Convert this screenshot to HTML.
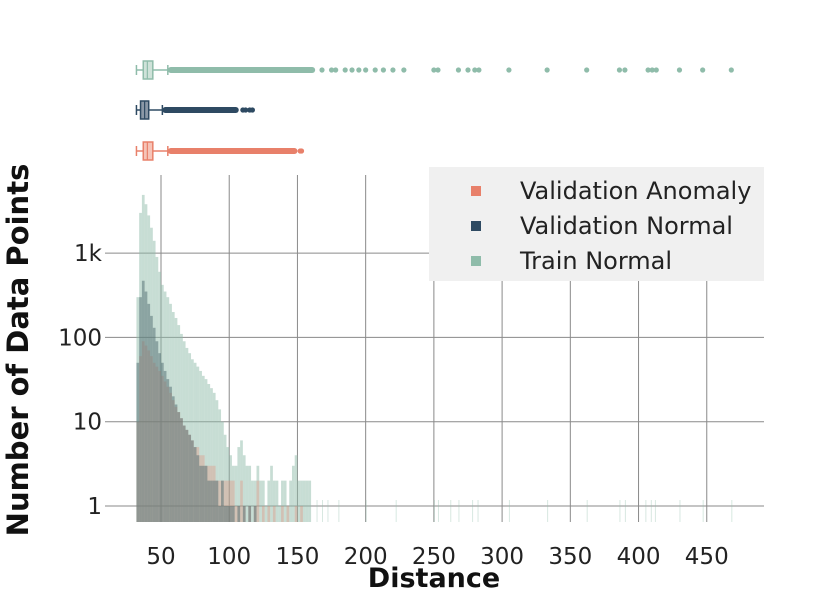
<!DOCTYPE html>
<html><head><meta charset="utf-8"><style>
body{margin:0;background:#fff;font-family:"Liberation Sans","DejaVu Sans",sans-serif}
text{font-family:"DejaVu Sans","Liberation Sans",sans-serif}
</style></head><body>
<svg id="chart" width="830" height="598" xmlns="http://www.w3.org/2000/svg">
<g id="grid"></g>
<g id="hist"></g>
<g id="boxes"></g>
<g id="axes"></g>
<g>
<rect x="429" y="167" width="335" height="114" fill="#f0f0f0"/>
<rect x="471" y="186" width="10" height="10" fill="#e8806a"/>
<text x="520" y="199" font-size="24" fill="#222">Validation Anomaly</text>
<rect x="471" y="221" width="10" height="10" fill="#2e4a62"/>
<text x="520" y="234" font-size="24" fill="#222">Validation Normal</text>
<rect x="471" y="256" width="10" height="10" fill="#8fbcaa"/>
<text x="520" y="269" font-size="24" fill="#222">Train Normal</text>
</g>
<text x="434" y="587" font-size="27" font-weight="bold" text-anchor="middle" fill="#111">Distance</text>
<text transform="translate(28,350) rotate(-90)" font-size="29" font-weight="bold" text-anchor="middle" fill="#111">Number of Data Points</text>
</svg>
<script>
const binStart = 32, binWidth = 2;
const trainCounts = [300,3000,4900,3800,2800,2000,1400,900,600,420,350,300,250,200,170,140,110,90,75,65,55,50,45,40,35,32,28,25,22,18,14,10,7,5,4,3,3,5,6,4,3,3,2,2,3,2,2,1,2,3,2,2,1,2,2,1,2,3,4,2,2,2,2,2];
const valNormalCounts = [50,300,470,350,250,180,130,90,65,50,40,32,26,20,16,13,11,9,8,7,6,5,4,3,3,3,2,2,2,2,1,2,1,1,1,1,0,1,0,1,0,1,0,1];
const anomalyCounts = [10,60,90,80,70,60,50,45,40,35,30,26,22,18,15,13,11,9,8,7,6,5,5,4,4,3,3,3,3,2,2,2,2,2,2,2,1,1,2,1,0,1,0,1,2,0,1,0,1,0,1,0,0,1,0,1,0,0,1,0,1];
const trainSparse = [164,168,172,180,200,222,250,253,262,268,278,282,305,333,362,386,390,405,409,412,430,447,468];
const xTicks = [50,100,150,200,250,300,350,400,450];
const yTicks = [1,10,100,1000];
const yTickLabels = ["1","10","100","1k"];
const boxData = [
 {name:"train", y:70, color:"#8fbcaa", fill:"#cfe2d9", wl:32, q1:37, med:40, q3:44, wh:55, dense:163, dots:[168,175,178,185,190,195,200,207,213,220,228,250,253,268,275,280,283,305,333,362,386,390,407,410,413,430,447,468]},
 {name:"val-normal", y:110, color:"#2e4a62", fill:"#8b98a6", wl:32, q1:35, med:38, q3:41, wh:51, dense:107, dots:[110,112,115,117]},
 {name:"anomaly", y:151, color:"#e8806a", fill:"#f6c4b8", wl:32, q1:37, med:40, q3:44, wh:55, dense:150, dots:[152,153]}
];
const X = v => 161 + (v-50)*1.3644;
const Y = c => 506 - Math.log10(c)*84.3;
const NS = "http://www.w3.org/2000/svg";
function mk(tag, attrs, parent){const e=document.createElementNS(NS,tag);for(const k in attrs)e.setAttribute(k,attrs[k]);parent.appendChild(e);return e;}
const grid=document.getElementById('grid'), hist=document.getElementById('hist'), boxes=document.getElementById('boxes'), axes=document.getElementById('axes');
xTicks.forEach(t=>{
 const l=mk('line',{x1:X(t),x2:X(t),y1:175,y2:522,stroke:'#8a8a8a','stroke-width':1},grid);
 
 
 const tx=mk('text',{x:X(t),y:564,'font-size':23,'text-anchor':'middle',fill:'#222'},axes);
 tx.textContent=t;
 
 
});
yTicks.forEach((t,i)=>{
 const l=mk('line',{x1:105,x2:764,y1:Y(t),y2:Y(t),stroke:'#8a8a8a','stroke-width':1},grid);
 
 
 const tx=mk('text',{x:102,y:Y(t)+8,'font-size':23,'text-anchor':'end',fill:'#222'},axes);
 tx.textContent=yTickLabels[i];
 
 
});
const base=522;
function drawSeries(counts,color,op,name){
 counts.forEach((c,i)=>{
  if(c<=0) return;
  const x0=X(binStart+i*binWidth), x1=X(binStart+(i+1)*binWidth);
  const y=Y(c);
  const r=mk('rect',{x:x0,y:y,width:x1-x0,height:base-y,fill:color,'fill-opacity':op},hist);
  
  
 });
}
drawSeries(trainCounts,'#8fbcaa',0.5,'train');
drawSeries(anomalyCounts,'#e8806a',0.3,'anomaly');
drawSeries(valNormalCounts,'#4f6b70',0.5,'val-normal');
trainSparse.forEach(v=>{
 const r=mk('rect',{x:X(v),y:Y(1)-6,width:1,height:base-Y(1)+6,fill:'#8fbcaa','fill-opacity':0.35},hist);
 
 
});
boxData.forEach(b=>{
 const g=mk('g',{},boxes);
 
 
 mk('line',{x1:X(b.wl),x2:X(b.q1),y1:b.y,y2:b.y,stroke:b.color,'stroke-width':1.5},g);
 mk('line',{x1:X(b.wl),x2:X(b.wl),y1:b.y-5,y2:b.y+5,stroke:b.color,'stroke-width':1.5},g);
 mk('line',{x1:X(b.q3),x2:X(b.wh),y1:b.y,y2:b.y,stroke:b.color,'stroke-width':1.5},g);
 mk('line',{x1:X(b.wh),x2:X(b.wh),y1:b.y-5,y2:b.y+5,stroke:b.color,'stroke-width':1.5},g);
 mk('rect',{x:X(b.q1),y:b.y-9,width:X(b.q3)-X(b.q1),height:18,fill:b.fill,stroke:b.color,'stroke-width':1.5},g);
 mk('line',{x1:X(b.med),x2:X(b.med),y1:b.y-9,y2:b.y+9,stroke:b.color,'stroke-width':1.2},g);
 mk('rect',{x:X(b.wh),y:b.y-3,width:X(b.dense)-X(b.wh),height:6,rx:3,fill:b.color},g);
 b.dots.forEach(d=>mk('circle',{cx:X(d),cy:b.y,r:2.6,fill:b.color},g));
});
</script>
</body></html>
